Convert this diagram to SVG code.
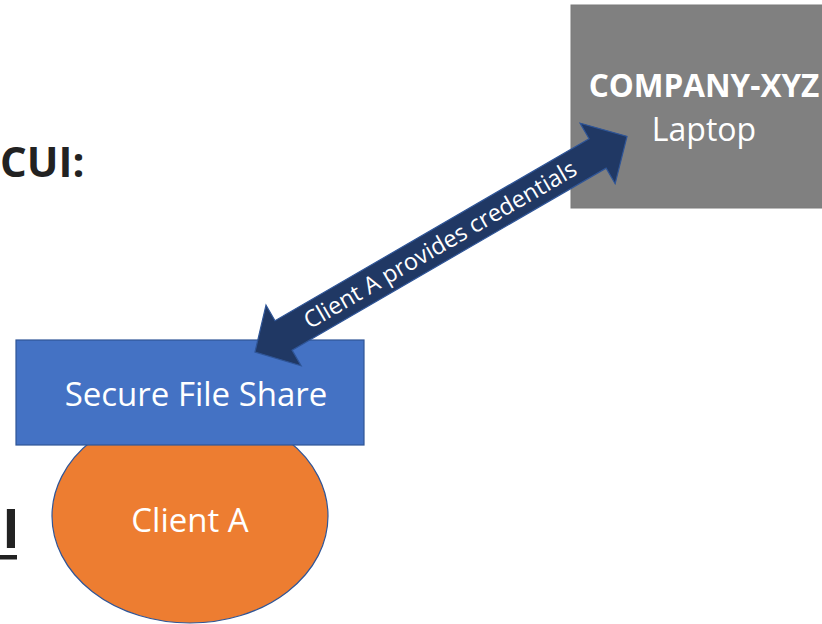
<svg xmlns="http://www.w3.org/2000/svg" width="822" height="624" viewBox="0 0 822 624">
<style>
.t{font-family:"Open Sans","Noto Sans","Liberation Sans",sans-serif;fill:#fff;text-anchor:middle}
.k{font-family:"Open Sans","Noto Sans","Liberation Sans",sans-serif;fill:#222;font-weight:bold}
</style>
<rect width="822" height="624" fill="#fff"/>
<text class="k" x="0" y="177" font-size="42">CUI:</text>
<g id="label-i">
<text class="k" x="2" y="548" font-size="54">I</text>
<rect x="0" y="555" width="17" height="4.5" fill="#222"/>
</g>
<g id="laptop">
<rect x="571" y="5" width="260" height="203" fill="#808080" stroke="#7a7a7a" stroke-width="1"/>
<text class="t" x="704" y="97" font-size="31.5" font-weight="bold">COMPANY-XYZ</text>
<text class="t" x="704" y="141" font-size="32">Laptop</text>
</g>
<g id="client-a">
<ellipse cx="190" cy="516" rx="138" ry="107" fill="#ED7D31" stroke="#2F5597" stroke-width="1.2"/>
<text class="t" x="190" y="532" font-size="33">Client A</text>
</g>
<g id="secure-file-share">
<rect x="16" y="340" width="348" height="105" fill="#4472C4" stroke="#2F5597" stroke-width="1.2"/>
<text class="t" x="196" y="406" font-size="33">Secure File Share</text>
</g>
<g id="connectors">
<g transform="translate(255,352) rotate(-30.1)">
<polygon points="0,0 33,-35 33,-17 396,-17 396,-35 430,0 396,35 396,17 33,17 33,35" fill="#203864" stroke="#2F5597" stroke-width="1.2"/>
<text class="t" x="214" y="8" font-size="23.5">Client A provides credentials</text>
</g>
</g>
</svg>
